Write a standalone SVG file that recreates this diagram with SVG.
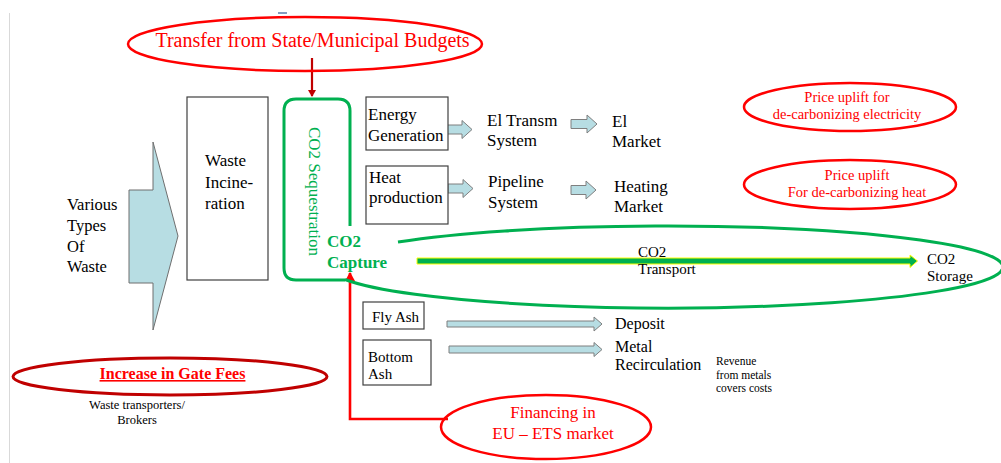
<svg xmlns="http://www.w3.org/2000/svg" width="1001" height="463" viewBox="0 0 1001 463" font-family="'Liberation Serif', 'Times New Roman', serif">
<style>
svg, text, tspan{font-family:"Liberation Serif","Times New Roman",serif}
.box{fill:#fff;stroke:#404040;stroke-width:1.2}
.blk{fill:#b7dde3;stroke:#7f7f7f;stroke-width:1}
.redE{fill:none;stroke:#ff0000;stroke-width:2.5}
.grn{fill:none;stroke:#00b050;stroke-width:3}
.t17{font-size:17px}
.mid{text-anchor:middle}
</style>
<defs>
<marker id="ahDark" markerWidth="8" markerHeight="8" refX="6" refY="4" orient="auto" markerUnits="userSpaceOnUse">
<path d="M0,0 L7,4 L0,8 Z" fill="#c00000"/>
</marker>
<marker id="ahRed" markerWidth="10" markerHeight="10" refX="8" refY="5" orient="auto" markerUnits="userSpaceOnUse">
<path d="M0,0 L9,5 L0,10 Z" fill="#ff0000"/>
</marker>
</defs>
<rect width="1001" height="463" fill="#fff"/>
<line x1="9.5" y1="13" x2="9.5" y2="463" stroke="#d9d9d9" stroke-width="1"/>
<line x1="278" y1="13" x2="287" y2="13" stroke="#5b7bab" stroke-width="1.5"/>

<g id="connectors">
<line x1="312" y1="58" x2="312" y2="96" stroke="#c00000" stroke-width="2.2" marker-end="url(#ahDark)"/>
<path d="M448,419 H350 V273" fill="none" stroke="#ff0000" stroke-width="2.6" marker-end="url(#ahRed)"/>
<path class="blk" d="M446,125 H462 V120.5 L472,129.5 L462,138.5 V134 H446 Z"/>
<path class="blk" d="M571,119.5 H587 V115 L597,124 L587,133 V128.5 H571 Z"/>
<path class="blk" d="M448,184 H463 V179.5 L473,188.5 L463,197.5 V193 H448 Z"/>
<path class="blk" d="M571,185.5 H586 V181 L596,190 L586,199 V194.5 H571 Z"/>
<path class="blk" d="M447,321 H594 V317 L602,324 L594,331 V327 H447 Z"/>
<path class="blk" d="M449,346 H594 V342.5 L602,349.5 L594,356.5 V353 H449 Z"/>
<path d="M417,258 H910 V255 L917.5,261 L910,267.5 V264 H417 Z" fill="#00b050" stroke="#ffff00" stroke-width="1"/>
</g>

<g id="various-waste">
<path d="M129,190 H153 V142 L178,236 L153,330 V283 H129 Z" fill="#b7dde3" stroke="#6f6f6f" stroke-width="1"/>
<text font-family="'Liberation Serif', serif" font-size="16.5"><tspan x="67" y="210">Various</tspan><tspan x="67" y="231">Types</tspan><tspan x="67" y="251.5">Of</tspan><tspan x="67" y="272">Waste</tspan></text>
</g>

<g id="waste-incineration">
<rect class="box" x="187" y="97" width="81" height="183"/>
<text font-family="'Liberation Serif', serif" font-size="17"><tspan x="205" y="166">Waste</tspan><tspan x="205" y="187.5">Incine-</tspan><tspan x="205" y="208.5">ration</tspan></text>
</g>

<g id="co2-sequestration">
<path class="grn" d="M350,226 V111 Q350,99 338,99 H296 Q284,99 284,111 V268 Q284,280 296,280 H345"/>
<text font-family="'Liberation Serif', serif" font-size="17" fill="#00b050" transform="translate(309,127) rotate(90)">CO2 Sequestration</text>
</g>

<g id="co2-transport-ellipse">
<path class="grn" d="M398,242.1 A337,41 0 1,1 345,279.5"/>
</g>

<g id="co2-capture">
<text font-family="'Liberation Serif', serif" font-size="17" font-weight="bold" fill="#00b050"><tspan x="327" y="247">CO2</tspan><tspan x="327" y="268">Capture</tspan></text>
</g>

<g id="transfer-budgets">
<ellipse class="redE" cx="305" cy="44" rx="177" ry="27"/>
<text font-family="'Liberation Serif', serif" font-size="20" fill="#ff0000" text-anchor="middle" x="312.5" y="47">Transfer from State/Municipal Budgets</text>
</g>

<g id="energy-generation">
<rect class="box" x="366" y="97" width="82" height="53"/>
<text font-family="'Liberation Serif', serif" font-size="17"><tspan x="368" y="120">Energy</tspan><tspan x="368" y="141">Generation</tspan></text>
</g>

<g id="heat-production">
<rect class="box" x="366" y="166" width="82" height="58"/>
<text font-family="'Liberation Serif', serif" font-size="17"><tspan x="369" y="183">Heat</tspan><tspan x="369" y="203">production</tspan></text>
</g>

<g id="el-transm">
<text font-family="'Liberation Serif', serif" font-size="17"><tspan x="487" y="126">El Transm</tspan><tspan x="487" y="146">System</tspan></text>
</g>
<g id="el-market">
<text font-family="'Liberation Serif', serif" font-size="17"><tspan x="612" y="126.5">El</tspan><tspan x="612" y="146.5">Market</tspan></text>
</g>
<g id="pipeline">
<text font-family="'Liberation Serif', serif" font-size="17"><tspan x="488" y="187">Pipeline</tspan><tspan x="488" y="208">System</tspan></text>
</g>
<g id="heating-market">
<text font-family="'Liberation Serif', serif" font-size="17"><tspan x="614" y="191.5">Heating</tspan><tspan x="614" y="211.5">Market</tspan></text>
</g>

<g id="price-electricity">
<ellipse class="redE" cx="850" cy="107" rx="106" ry="24"/>
<text font-family="'Liberation Serif', serif" font-size="14.5" fill="#ff0000" text-anchor="middle"><tspan x="847" y="102">Price uplift for</tspan><tspan x="847" y="119">de-carbonizing electricity</tspan></text>
</g>

<g id="price-heat">
<ellipse class="redE" cx="850" cy="184.5" rx="106" ry="24.5"/>
<text font-family="'Liberation Serif', serif" font-size="14.5" fill="#ff0000" text-anchor="middle"><tspan x="857" y="180">Price uplift</tspan><tspan x="857" y="197">For de-carbonizing heat</tspan></text>
</g>

<g id="co2-transport">
<text font-family="'Liberation Serif', serif" font-size="15"><tspan x="638" y="256.5">CO2</tspan><tspan x="638" y="273.5">Transport</tspan></text>
</g>
<g id="co2-storage">
<text font-family="'Liberation Serif', serif" font-size="15"><tspan x="927" y="264">CO2</tspan><tspan x="927" y="280.5">Storage</tspan></text>
</g>

<g id="fly-ash">
<rect class="box" x="363" y="302" width="61" height="27"/>
<text font-family="'Liberation Serif', serif" font-size="15" x="372" y="322">Fly Ash</text>
</g>
<g id="bottom-ash">
<rect class="box" x="363" y="340" width="68" height="45"/>
<text font-family="'Liberation Serif', serif" font-size="15"><tspan x="368" y="362">Bottom</tspan><tspan x="368" y="379">Ash</tspan></text>
</g>
<g id="deposit">
<text font-family="'Liberation Serif', serif" font-size="16" x="615" y="329">Deposit</text>
</g>
<g id="metal-recirculation">
<text font-family="'Liberation Serif', serif" font-size="16"><tspan x="615" y="352">Metal</tspan><tspan x="615" y="370">Recirculation</tspan></text>
</g>
<g id="revenue-note">
<text font-family="'Liberation Serif', serif" font-size="11.5"><tspan x="716" y="365">Revenue</tspan><tspan x="716" y="379">from metals</tspan><tspan x="716" y="392">covers costs</tspan></text>
</g>

<g id="gate-fees">
<ellipse cx="170" cy="376.5" rx="157" ry="18.5" fill="none" stroke="#c00000" stroke-width="3"/>
<text font-family="'Liberation Serif', serif" font-size="16" font-weight="bold" fill="#ff0000" text-anchor="middle" text-decoration="underline" x="172.5" y="379">Increase in Gate Fees</text>
<text font-family="'Liberation Serif', serif" font-size="12.5" text-anchor="middle"><tspan x="137" y="409">Waste transporters/</tspan><tspan x="137" y="424">Brokers</tspan></text>
</g>

<g id="eu-ets">
<ellipse class="redE" cx="546" cy="427" rx="105" ry="32"/>
<text font-family="'Liberation Serif', serif" font-size="17" fill="#ff0000" text-anchor="middle"><tspan x="553" y="418">Financing in</tspan><tspan x="553" y="439">EU – ETS market</tspan></text>
</g>
</svg>
